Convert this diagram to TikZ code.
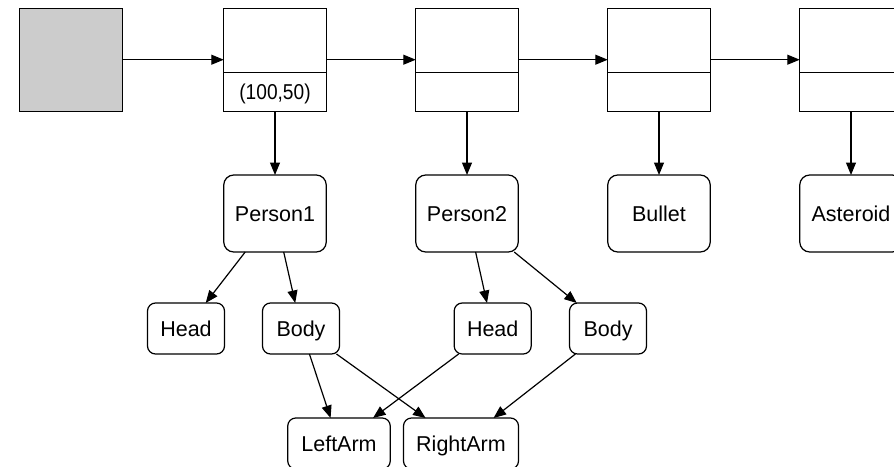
\documentclass[tikz,border=0pt]{standalone}
\usepackage{graphicx}
\usepackage{fontspec}
\newfontfamily\diagfont{Liberation Sans}
\usetikzlibrary{arrows.meta}
\definecolor{headfill}{HTML}{CCCCCC}
\newcommand{\labelfont}{\diagfont\fontsize{21.5}{26}\selectfont}
\begin{document}
\begin{tikzpicture}[x=1pt,y=-1pt,
  line width=1.2pt,
  every node/.style={font=\labelfont, inner sep=0pt, outer sep=0pt, line width=1.2pt,
    text height=15.4pt, text depth=0pt},
  cell/.style={draw, minimum width=102.5pt, minimum height=103pt},
  slot/.style={draw, minimum width=102.5pt, minimum height=38.7pt, anchor=south},
  obj/.style={draw, rounded corners=10pt, minimum width=102.5pt, minimum height=77pt},
  part/.style={draw, rounded corners=8pt, minimum width=77pt, minimum height=51pt},
  link/.style={-{Triangle[length=12.5pt,width=10pt]}}
]
\useasboundingbox (0,0) rectangle (894,466);
\clip (0,0) rectangle (894,466);

% linked list of cells
\node[cell, fill=headfill] (start) at (71,59.7) {};
\node[cell] (c1) at (275,59.7) {};
\node[cell] (c2) at (467,59.7) {};
\node[cell] (c3) at (659,59.7) {};
\node[cell] (c4) at (851,59.7) {};
\node[slot] (s1) at (c1.south) {\scalebox{0.89}[1]{(100,50)}};
\node[slot] (s2) at (c2.south) {};
\node[slot] (s3) at (c3.south) {};
\node[slot] (s4) at (c4.south) {};

% objects referenced by the cells
\node[obj] (p1) at (275,213.5) {Person1};
\node[obj] (p2) at (467,213.5) {Person2};
\node[obj] (bu) at (659,213.5) {Bullet};
\node[obj] (as) at (851,213.5) {Asteroid};

% parts
\node[part] (h1) at (186,328.5) {Head};
\node[part] (b1) at (301,328.5) {Body};
\node[part] (h2) at (492.7,328.5) {Head};
\node[part] (b2) at (608,328.5) {Body};
\node[part, minimum width=102.5pt] (la) at (339,443.5) {LeftArm};
\node[part, minimum width=115pt] (ra) at (461,443.5) {RightArm};

% next pointers
\draw[link] (start) -- (c1);
\draw[link] (c1) -- (c2);
\draw[link] (c2) -- (c3);
\draw[link] (c3) -- (c4);

% data pointers
\draw[link] (s1) -- (p1);
\draw[link] (s2) -- (p2);
\draw[link] (s3) -- (bu);
\draw[link] (s4) -- (as);

% composition
\draw[link] (p1) -- (h1);
\draw[link] (p1) -- (b1);
\draw[link] (p2) -- (h2);
\draw[link] (p2) -- (b2);
\draw[link] (b1) -- (la);
\draw[link] (b1) -- (ra);
\draw[link] (h2) -- (la);
\draw[link] (b2) -- (ra);
\end{tikzpicture}
\end{document}
